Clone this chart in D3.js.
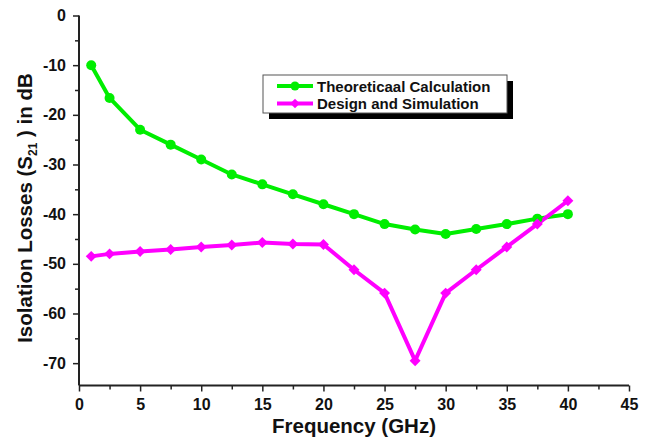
<!DOCTYPE html>
<html><head><meta charset="utf-8">
<script src="https://cdn.jsdelivr.net/npm/d3@7"></script>
<style>body{margin:0;background:#fff}svg{display:block}text{font-family:Arial,"Liberation Sans",sans-serif;font-weight:bold;fill:#111}</style>
</head><body><svg id="c" width="647" height="437"></svg>
<script>
const freq = [1, 2.5, 5, 7.5, 10, 12.5, 15, 17.5, 20, 22.5, 25, 27.5, 30, 32.5, 35, 37.5, 40];
const theoretical = [-10, -16.6, -23, -26, -29, -32, -34, -36, -38, -40, -42, -43.1, -44, -43, -42, -40.9, -40];
const simulation = [-48.5, -48, -47.5, -47.1, -46.6, -46.2, -45.7, -46, -46.1, -51.2, -55.9, -69.5, -55.9, -51.2, -46.6, -42, -37.3];
const xTicks = [0, 5, 10, 15, 20, 25, 30, 35, 40, 45];
const yTicks = [0, -10, -20, -30, -40, -50, -60, -70];
const seriesNames = ["Theoreticaal Calculation", "Design and Simulation"];
const colors = ["#00ee00", "#ff00ff"];

const svg = d3.select("#c");
const x = d3.scaleLinear().domain([0, 45]).range([79, 629]);
const y = d3.scaleLinear().domain([-74.5, 0]).range([385.5, 15.5]);
const fmt = d => String(d);

// axes
const xAxis = svg.append("g").attr("transform", "translate(0,385.5)")
  .call(d3.axisBottom(x).tickValues(xTicks).tickSize(6).tickPadding(7).tickFormat(fmt));
svg.append("g").attr("transform", "translate(0,385.5)")
  .call(d3.axisBottom(x).tickValues(d3.range(2.5, 45, 5)).tickSize(4).tickFormat(""))
  .select(".domain").remove();
const yAxis = svg.append("g").attr("transform", "translate(79,0)")
  .call(d3.axisLeft(y).tickValues(yTicks).tickSize(6).tickPadding(7).tickFormat(fmt));
svg.append("g").attr("transform", "translate(79,0)")
  .call(d3.axisLeft(y).tickValues(d3.range(-5, -75, -10)).tickSize(4).tickFormat(""))
  .select(".domain").remove();
svg.selectAll(".domain").attr("stroke", "#222").attr("stroke-width", 2);
svg.selectAll(".tick line").attr("stroke", "#222").attr("stroke-width", 1.5);
svg.selectAll(".tick text").style("font-size", "16px").style("font-weight", "bold").attr("fill", "#111");
yAxis.select(".domain").attr("d", "M0,15.5V385.5");
xAxis.select(".domain").attr("d", "M79,0H629");

// axis titles
svg.append("text").attr("x", 354).attr("y", 432.5).attr("text-anchor", "middle")
  .style("font-size", "20.5px").text("Frequency (GHz)");
const yt = svg.append("text").attr("transform", "translate(32,208) rotate(-90)")
  .attr("text-anchor", "middle").style("font-size", "20.5px");
yt.append("tspan").text("Isolation Losses (S");
yt.append("tspan").attr("dy", 5).style("font-size", "12px").text("21");
yt.append("tspan").attr("dy", -5).text(" ) in dB");

// lines
const line = d3.line().x((d, i) => x(freq[i])).y(d => y(d));
[theoretical, simulation].forEach((s, k) => {
  svg.append("path").datum(s).attr("d", line).attr("fill", "none")
    .attr("stroke", colors[k]).attr("stroke-width", 4).attr("stroke-linejoin", "round");
});
svg.selectAll(".dot").data(theoretical).enter().append("circle")
  .attr("cx", (d, i) => x(freq[i])).attr("cy", d => y(d)).attr("r", 5).attr("fill", colors[0]);
const diamond = d3.symbol().type(d3.symbolSquare).size(60);
svg.selectAll(".dia").data(simulation).enter().append("path")
  .attr("d", diamond()).attr("fill", colors[1])
  .attr("transform", (d, i) => `translate(${x(freq[i])},${y(d)}) rotate(45)`);

// legend
const lg = svg.append("g");
lg.append("rect").attr("x", 269).attr("y", 81).attr("width", 244).attr("height", 38).attr("fill", "#000");
lg.append("rect").attr("x", 263).attr("y", 75).attr("width", 244).attr("height", 38).attr("fill", "#fff")
  .attr("stroke", "#555").attr("stroke-width", 1);
seriesNames.forEach((n, k) => {
  const yy = 86 + k * 17.5;
  lg.append("line").attr("x1", 277).attr("x2", 313).attr("y1", yy).attr("y2", yy)
    .attr("stroke", colors[k]).attr("stroke-width", 4);
  if (k === 0) lg.append("circle").attr("cx", 295).attr("cy", yy).attr("r", 4.5).attr("fill", colors[0]);
  else lg.append("path").attr("d", d3.symbol().type(d3.symbolSquare).size(45)())
    .attr("transform", `translate(295,${yy}) rotate(45)`).attr("fill", colors[1]);
  lg.append("text").attr("x", 317).attr("y", yy + 5.5).style("font-size", "15px").text(n);
});
</script></body></html>
